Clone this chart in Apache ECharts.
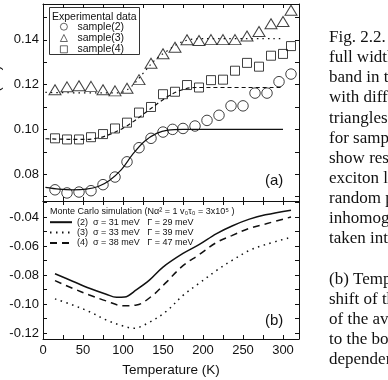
<!DOCTYPE html>
<html>
<head>
<meta charset="utf-8">
<script src="https://cdn.jsdelivr.net/npm/echarts@6/dist/echarts.min.js"></script>
<style>
  html, body { margin: 0; padding: 0; background: #fff; }
  #chart { width: 388px; height: 380px; }
</style>
</head>
<body>
<div id="chart"></div>
<script>
// (a) FWHM, experimental points
const t2 = [15, 30, 45, 60, 75, 90, 105, 120, 135, 150, 162, 175, 190, 205, 220, 235, 250, 265, 280, 295, 310];
const fwhm2 = [0.0730, 0.0716, 0.0720, 0.0726, 0.0753, 0.0787, 0.0855, 0.0918, 0.0960, 0.0988, 0.1000, 0.1004, 0.1015, 0.1040, 0.1063, 0.1105, 0.1105, 0.1162, 0.1162, 0.1213, 0.1247];
const t3 = [15, 30, 45, 60, 75, 90, 105, 120, 135, 150, 165, 180, 195, 210, 225, 240, 255, 270, 285, 300, 310];
const fwhm3 = [0.1177, 0.1190, 0.1195, 0.1192, 0.1177, 0.1172, 0.1184, 0.1222, 0.1295, 0.1338, 0.1367, 0.1400, 0.1397, 0.1401, 0.1401, 0.1401, 0.1417, 0.1437, 0.1472, 0.1482, 0.1532];
const t4 = [15, 30, 45, 60, 75, 90, 105, 120, 135, 150, 165, 180, 195, 210, 225, 240, 255, 270, 285, 300, 310];
const fwhm4 = [0.0960, 0.0955, 0.0955, 0.0965, 0.0979, 0.1004, 0.1030, 0.1075, 0.1100, 0.1157, 0.1168, 0.1198, 0.1187, 0.1220, 0.1222, 0.1262, 0.1297, 0.1280, 0.1329, 0.1337, 0.1372];

// (a) simulated FWHM curves
const fitT2 = [3, 20, 37, 54, 69, 83, 98, 112, 127, 142, 156, 175, 300];
const fit2 = [0.0741, 0.0733, 0.0730, 0.0733, 0.0745, 0.0772, 0.0820, 0.0888, 0.0947, 0.0982, 0.0997, 0.1000, 0.1000];
const fitT3 = [3, 50, 95, 110, 125, 140, 155, 170, 185, 200, 300];
const fit3 = [0.1165, 0.1163, 0.1163, 0.1190, 0.1250, 0.1310, 0.1350, 0.1385, 0.1402, 0.1405, 0.1405];
const fitT4 = [3, 50, 70, 85, 100, 115, 130, 145, 160, 175, 190, 300];
const fit4 = [0.0958, 0.0955, 0.0962, 0.0980, 0.1005, 0.1040, 0.1080, 0.1120, 0.1155, 0.1178, 0.1187, 0.1187];

// (b) Monte Carlo shift curves
const mcT2 = [15, 37, 58, 79, 92, 102, 117, 133, 150, 175, 195, 217, 237, 258, 278, 310];
const mc2 = [-0.0791, -0.0842, -0.0891, -0.0932, -0.0953, -0.0951, -0.0900, -0.0835, -0.0745, -0.0651, -0.0590, -0.0514, -0.0460, -0.0415, -0.0385, -0.0353];
const mcT3 = [15, 37, 58, 79, 100, 113, 133, 154, 175, 195, 217, 236, 258, 278, 310];
const mc3 = [-0.0964, -0.1006, -0.1052, -0.1109, -0.1150, -0.1166, -0.1125, -0.1050, -0.0940, -0.0857, -0.0768, -0.0700, -0.0630, -0.0590, -0.0540];
const mcT4 = [15, 37, 58, 79, 100, 117, 137, 154, 175, 195, 217, 236, 258, 278, 310];
const mc4 = [-0.0838, -0.0891, -0.0937, -0.0978, -0.1011, -0.1006, -0.0940, -0.0850, -0.0735, -0.0660, -0.0575, -0.0528, -0.0478, -0.0448, -0.0400];

const ticksA = [0.07, 0.08, 0.09, 0.10, 0.11, 0.12, 0.13, 0.14, 0.15];
const labelsA = [0.08, 0.10, 0.12, 0.14];
const ticksB = [-0.12, -0.11, -0.10, -0.09, -0.08, -0.07, -0.06, -0.05, -0.04, -0.03];
const labelsB = [-0.12, -0.10, -0.08, -0.06, -0.04];

const mcNames = [
  '(2)  σ = 31 meV   Γ = 29 meV',
  '(3)  σ = 33 meV   Γ = 39 meV',
  '(4)  σ = 38 meV   Γ = 47 meV',
];

const captionLines = [
  'Fig. 2.2. (a) Temperature', 'full width at half', 'band in the', 'with different', 'triangles and',
  'for sample (4)', 'show results', 'exciton localization', 'random potential', 'inhomogeneous',
  'taken into account', '', '(b) Temperature', 'shift of the', 'of the average', 'to the bottom', 'dependence',
];

const pairs = (xs, ys) => xs.map((x, i) => [x, ys[i]]);
const FONT = 'Liberation Sans, Arial, sans-serif';
const INK = '#111';

const xBase = (grid, pos, labels) => ({
  type: 'value', gridIndex: grid, position: pos, min: 0, max: 320, interval: 25,
  axisLine: { show: true, onZero: false, lineStyle: { color: INK, width: 1 } },
  axisTick: { show: true, inside: true, length: 4, lineStyle: { color: INK } },
  axisLabel: labels
    ? { show: true, fontFamily: FONT, fontSize: 13, color: INK, margin: 5, formatter: (v) => (v % 50 === 0 ? String(v) : '') }
    : { show: false },
  splitLine: { show: false },
});

const yBase = (grid, pos, min, max, ticks, labels) => ({
  type: 'value', gridIndex: grid, position: pos, min, max,
  axisLine: { show: true, onZero: false, lineStyle: { color: INK, width: 1 } },
  axisTick: { show: true, inside: true, length: 4, customValues: ticks, lineStyle: { color: INK } },
  axisLabel: labels
    ? { show: true, customValues: labels, fontFamily: FONT, fontSize: 13, color: INK, margin: 4, formatter: (v) => v.toFixed(2) }
    : { show: false },
  splitLine: { show: false },
});

const lineSeries = (name, data, xi, yi, type, width) => ({
  name, type: 'line', data, xAxisIndex: xi, yAxisIndex: yi, symbol: 'none', smooth: 0.35,
  lineStyle: { color: INK, width, type }, itemStyle: { color: INK }, silent: true, z: 2,
});

const dots = (name, data, symbol, size) => ({
  name, type: 'scatter', data, xAxisIndex: 0, yAxisIndex: 0, symbol, symbolSize: size,
  itemStyle: { color: 'rgba(0,0,0,0)', borderColor: INK, borderWidth: 1 }, z: 3,
});

const chart = echarts.init(document.getElementById('chart'));

const caption = captionLines.map((s, i) => ({
  type: 'text', left: 329, top: 29 + i * 20.15,
  style: { text: s, fontFamily: 'Liberation Serif, Times New Roman, serif', fontSize: 17, fill: INK },
}));

const option = {
  backgroundColor: '#fff',
  animation: false,
  grid: [
    { left: 43, top: 4, width: 256, height: 197, outerBoundsMode: 'none', containLabel: false },
    { left: 43, top: 201, width: 256, height: 138, outerBoundsMode: 'none', containLabel: false },
  ],
  xAxis: [
    xBase(0, 'bottom', false),
    xBase(0, 'top', false),
    Object.assign(xBase(1, 'bottom', true), {
      name: 'Temperature (K)', nameLocation: 'middle', nameGap: 24,
      nameTextStyle: { fontFamily: FONT, fontSize: 13.5, color: INK },
    }),
    xBase(1, 'top', false),
  ],
  yAxis: [
    Object.assign(yBase(0, 'left', 0.068, 0.156, ticksA, labelsA), {
      name: 'FWHM (eV)', nameLocation: 'middle', nameGap: 39,
      nameTextStyle: { fontFamily: FONT, fontSize: 14, color: INK },
    }),
    yBase(0, 'right', 0.068, 0.156, ticksA, null),
    Object.assign(yBase(1, 'left', -0.124, -0.029, ticksB, labelsB), {
      name: 'Energy shift (eV)', nameLocation: 'middle', nameGap: 39,
      nameTextStyle: { fontFamily: FONT, fontSize: 14, color: INK },
    }),
    yBase(1, 'right', -0.124, -0.029, ticksB, null),
  ],
  legend: [
    {
      data: ['sample(2)', 'sample(3)', 'sample(4)'],
      orient: 'vertical', left: 60, top: 21.2, itemWidth: 7, itemHeight: 7, itemGap: 0.3,
      padding: 0,
      itemStyle: { borderWidth: 0.8 },
      textStyle: { fontFamily: FONT, fontSize: 10.5, lineHeight: 11, color: INK, padding: [0, 0, 0, 5] },
      selectedMode: false,
    },
    {
      data: mcNames,
      orient: 'vertical', left: 49, top: 217.2, itemWidth: 22, itemHeight: 8, itemGap: 0.35,
      padding: 0,
      itemStyle: { opacity: 0 },
      textStyle: { fontFamily: FONT, fontSize: 9, lineHeight: 10, color: INK },
      selectedMode: false,
    },
  ],
  graphic: [
    { type: 'rect', shape: { x: 49.5, y: 7.5, width: 90, height: 47 }, style: { fill: 'none', stroke: '#333', lineWidth: 1 } },
    { type: 'text', left: 52, top: 12, style: { text: 'Experimental data', fontFamily: FONT, fontSize: 10.5, fill: INK } },
    { type: 'text', left: 50, top: 207, style: { text: 'Monte Carlo simulation (Nα² = 1 v₀τ₀ = 3x10⁵ )', fontFamily: FONT, fontSize: 9, fill: INK } },
    { type: 'text', left: 265, top: 173, style: { text: '(a)', fontFamily: FONT, fontSize: 15, fill: INK } },
    { type: 'text', left: 265, top: 313, style: { text: '(b)', fontFamily: FONT, fontSize: 15, fill: INK } },
  ].concat(caption),
  series: [
    lineSeries('fit2', pairs(fitT2, fit2), 0, 0, 'solid', 1.2),
    lineSeries('fit3', pairs(fitT3, fit3), 0, 0, [1.5, 4], 1.2),
    lineSeries('fit4', pairs(fitT4, fit4), 0, 0, [4, 3], 1.2),
    dots('sample(2)', pairs(t2, fwhm2), 'circle', 10.5),
    dots('sample(3)', pairs(t3, fwhm3), 'triangle', [12, 10]),
    dots('sample(4)', pairs(t4, fwhm4), 'rect', 9),
    lineSeries(mcNames[0], pairs(mcT2, mc2), 2, 2, 'solid', 1.5),
    lineSeries(mcNames[1], pairs(mcT3, mc3), 2, 2, [1.5, 4.5], 1.5),
    lineSeries(mcNames[2], pairs(mcT4, mc4), 2, 2, [7, 5], 1.5),
  ],
};

chart.setOption(option);
</script>
</body>
</html>
